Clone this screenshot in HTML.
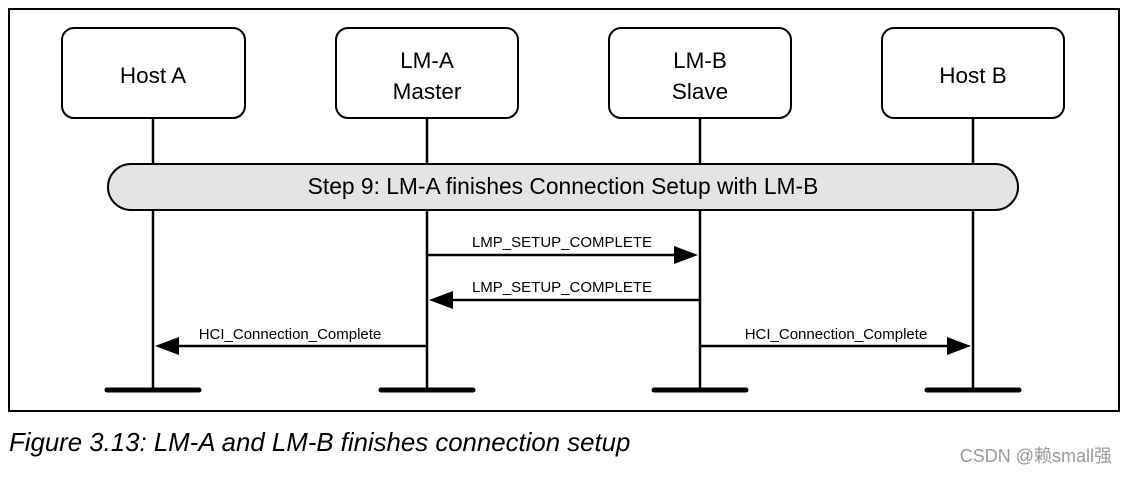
<!DOCTYPE html>
<html><head><style>
body{margin:0;background:#fff;}
svg text{font-family:"Liberation Sans","Noto Sans CJK SC",sans-serif;}
</style></head><body>
<svg width="1128" height="474" viewBox="0 0 1128 474" xmlns="http://www.w3.org/2000/svg">
<rect x="9" y="9" width="1110" height="402" fill="#fff" stroke="#000" stroke-width="2"/>
<g stroke="#000" stroke-width="2.5">
<line x1="153" y1="118" x2="153" y2="390"/>
<line x1="427" y1="118" x2="427" y2="390"/>
<line x1="700" y1="118" x2="700" y2="390"/>
<line x1="973" y1="118" x2="973" y2="390"/>
</g>
<g fill="#fff" stroke="#000" stroke-width="2">
<rect x="62" y="28" width="183" height="90" rx="12"/>
<rect x="336" y="28" width="182" height="90" rx="12"/>
<rect x="609" y="28" width="182" height="90" rx="12"/>
<rect x="882" y="28" width="182" height="90" rx="12"/>
<rect x="108" y="164" width="910" height="46" rx="23" fill="#e4e4e4"/>
</g>
<g font-size="22.5" text-anchor="middle" fill="#000">
<text x="153" y="83">Host A</text>
<text x="427" y="68">LM-A</text><text x="427" y="99">Master</text>
<text x="700" y="68">LM-B</text><text x="700" y="99">Slave</text>
<text x="973" y="83">Host B</text>
<text x="563" y="194" font-size="22.8">Step 9: LM-A finishes Connection Setup with LM-B</text>
</g>
<g stroke="#000" stroke-width="2.5">
<line x1="427" y1="255" x2="676" y2="255"/>
<line x1="451" y1="300" x2="700" y2="300"/>
<line x1="177" y1="346" x2="427" y2="346"/>
<line x1="700" y1="346" x2="949" y2="346"/>
</g>
<g fill="#000">
<polygon points="698,255 674,246 674,264"/>
<polygon points="429,300 453,291 453,309"/>
<polygon points="155,346 179,337 179,355"/>
<polygon points="971,346 947,337 947,355"/>
</g>
<g font-size="15" text-anchor="middle" fill="#000">
<text x="562" y="247">LMP_SETUP_COMPLETE</text>
<text x="562" y="292">LMP_SETUP_COMPLETE</text>
<text x="290" y="339">HCI_Connection_Complete</text>
<text x="836" y="339">HCI_Connection_Complete</text>
</g>
<g stroke="#000" stroke-width="5" stroke-linecap="round">
<line x1="107" y1="390" x2="199" y2="390"/>
<line x1="381" y1="390" x2="473" y2="390"/>
<line x1="654" y1="390" x2="746" y2="390"/>
<line x1="927" y1="390" x2="1019" y2="390"/>
</g>
<text x="9" y="451" font-size="25.8" font-style="italic" fill="#000">Figure 3.13:  LM-A and LM-B finishes connection setup</text>
<text x="1112" y="462" font-size="18" fill="#999" text-anchor="end">CSDN @赖small强</text>
</svg>
</body></html>
